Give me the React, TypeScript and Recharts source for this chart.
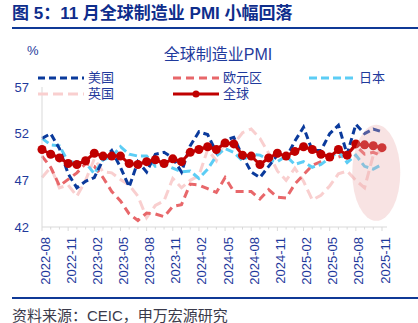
import React from "react";
import { LineChart, Line, XAxis, YAxis, ReferenceDot } from "recharts";

const months = [
  "2022-08", "2022-09", "2022-10", "2022-11", "2022-12",
  "2023-01", "2023-02", "2023-03", "2023-04", "2023-05", "2023-06",
  "2023-07", "2023-08", "2023-09", "2023-10", "2023-11", "2023-12",
  "2024-01", "2024-02", "2024-03", "2024-04", "2024-05", "2024-06",
  "2024-07", "2024-08", "2024-09", "2024-10", "2024-11", "2024-12",
  "2025-01", "2025-02", "2025-03", "2025-04", "2025-05", "2025-06",
  "2025-07", "2025-08", "2025-09", "2025-10", "2025-11",
];

const usPmi = [
  51.5, 52.0, 50.4, 47.7, 46.2,
  46.9, 47.3, 49.2, 50.2, 48.4, 46.3, 49.0, 47.9, 49.8, 50.0, 49.4, 47.9,
  50.7, 52.2, 51.9, 50.0, 51.3, 51.6, 49.6, 47.9, 47.3, 48.5, 49.7, 49.4,
  51.2, 52.7, 50.2, 50.2, 52.0, 52.9, 49.8, 53.0, 52.0, 52.5, 52.2,
];

const euroPmi = [
  49.6, 48.4, 46.4, 47.1, 47.8,
  48.8, 48.5, 47.3, 45.8, 44.8, 43.4, 42.7, 43.5, 43.4, 43.1, 44.2, 44.4,
  46.6, 46.5, 46.1, 45.7, 47.3, 45.8, 45.8, 45.8, 45.0, 46.0, 45.2, 45.1,
  46.6, 47.6, 48.6, 49.0, 49.4, 49.5, 49.8, 50.7, 49.8, 50.0, 49.6,
];

const japanPmi = [
  51.5, 50.8, 50.7, 49.0, 48.9,
  48.9, 47.7, 49.2, 49.5, 50.6, 49.8, 49.6, 49.6, 48.5, 48.7, 48.3, 47.9,
  48.0, 47.2, 48.2, 49.6, 50.4, 50.0, 49.1, 49.8, 49.7, 49.2, 49.0, 49.6,
  48.7, 49.0, 48.4, 48.7, 49.4, 50.1, 48.9, 49.7, 48.5, 48.2, 48.7,
];

const ukPmi = [
  47.3, 48.4, 46.2, 46.5, 45.3,
  47.0, 49.3, 47.9, 47.8, 47.1, 46.5, 45.3, 43.0, 44.3, 44.8, 47.2, 46.2,
  47.0, 47.5, 50.3, 49.1, 51.2, 50.9, 52.1, 52.5, 51.5, 49.9, 48.0, 47.0,
  48.3, 46.9, 44.9, 45.4, 46.4, 47.7, 48.0, 47.0, 46.2, 49.7, 50.2,
];

const globalPmi = [
  50.3, 49.8, 49.4, 48.8, 48.7,
  49.1, 49.9, 49.6, 49.6, 49.6, 48.8, 48.7, 49.0, 49.2, 48.8, 49.3, 49.0,
  50.0, 50.3, 50.6, 50.3, 51.0, 50.9, 49.7, 49.6, 48.7, 49.4, 49.9, 49.6,
  50.1, 50.6, 50.3, 49.8, 49.5, 50.3, 49.7, 50.9, 50.8, 50.7, 50.5,
];

const yTicks = [42, 47, 52, 57];

const data = months.map((m, i) => ({
  month: m,
  us: usPmi[i],
  euro: euroPmi[i],
  japan: japanPmi[i],
  uk: ukPmi[i],
  global: globalPmi[i],
}));

const FONT = '"Liberation Sans", Arial, "Noto Sans CJK SC", sans-serif';
const BLUE_TEXT = "#1f3a9c";
const NAVY = "#0e2d8c";
const AXIS = "#d9d9d9";

const C_US = "#0a3a9c";
const C_EURO = "#e8676a";
const C_JAPAN = "#5ccdf5";
const C_UK = "#f9cfcf";
const C_GLOBAL = "#c00000";

function MonthTick(props: any) {
  const { x, y, payload, index } = props;
  const major = index % 3 === 0;
  return (
    <g>
      <line x1={x} x2={x} y1={y} y2={y + (major ? 4 : 2.5)} stroke={AXIS} strokeWidth={1} />
      {major && (
        <text
          transform={`translate(${x + 3},${y + 10}) rotate(-90)`}
          textAnchor="end"
          dominantBaseline="central"
          fill={BLUE_TEXT}
          fontSize={13}
          fontFamily={FONT}
        >
          {payload.value}
        </text>
      )}
    </g>
  );
}

function LegendItem({
  left,
  top,
  color,
  dash,
  label,
  dot,
}: {
  left: number;
  top: number;
  color: string;
  dash?: string;
  label: string;
  dot?: boolean;
}) {
  return (
    <div style={{ position: "absolute", left, top: top - 8, height: 16, display: "flex", alignItems: "center" }}>
      <svg width={48} height={16}>
        <line x1={1} x2={47} y1={8} y2={8} stroke={color} strokeWidth={3} strokeDasharray={dash} />
        {dot && <circle cx={24} cy={8} r={3.5} fill={color} />}
      </svg>
      <span style={{ marginLeft: 3, fontSize: 13, color: BLUE_TEXT, fontFamily: FONT, lineHeight: "16px" }}>
        {label}
      </span>
    </div>
  );
}

export default function App() {
  return (
    <div style={{ position: "absolute", left: 0, top: 0, width: 418, height: 323, background: "#fff", fontFamily: FONT }}>
      <div style={{ position: "absolute", left: 12, top: 3, fontSize: 17, fontWeight: "bold", color: NAVY, whiteSpace: "nowrap", lineHeight: "22px" }}>
        图 5：11 月全球制造业 PMI 小幅回落
      </div>
      <div style={{ position: "absolute", left: 12, right: 0, top: 27, height: 2, background: "#0f3996" }} />

      <LineChart
        width={418}
        height={323}
        data={data}
        margin={{ top: 87, right: 31, bottom: 36, left: 0 }}
        style={{ position: "absolute", left: 0, top: 0 }}
      >
        <XAxis
          dataKey="month"
          interval={0}
          tickLine={false}
          tickSize={0}
          tickMargin={0}
          height={60}
          padding={{ left: 0, right: 5 }}
          axisLine={{ stroke: AXIS }}
          tick={<MonthTick />}
        />
        <YAxis
          domain={[42, 57]}
          ticks={yTicks}
          width={42}
          tickLine={false}
          tickSize={0}
          tickMargin={13}
          axisLine={{ stroke: AXIS }}
          tick={{ fill: BLUE_TEXT, fontSize: 13, fontFamily: FONT }}
        />
        <Line type="linear" dataKey="uk" stroke={C_UK} strokeWidth={3} strokeDasharray="10 5" dot={false} isAnimationActive={false} />
        <Line type="linear" dataKey="euro" stroke={C_EURO} strokeWidth={3} strokeDasharray="8 5" dot={false} isAnimationActive={false} />
        <Line type="linear" dataKey="japan" stroke={C_JAPAN} strokeWidth={3} strokeDasharray="8 4" dot={false} isAnimationActive={false} />
        <Line type="linear" dataKey="us" stroke={C_US} strokeWidth={3} strokeDasharray="7 4" dot={false} isAnimationActive={false} />
        <Line
          type="linear"
          dataKey="global"
          stroke={C_GLOBAL}
          strokeWidth={3}
          dot={{ r: 4.5, fill: C_GLOBAL, stroke: C_GLOBAL, strokeWidth: 0 }}
          isAnimationActive={false}
        />
        <ReferenceDot
          x="2025-10"
          y={47.8}
          ifOverflow="visible"
          shape={(p: any) => (
            <ellipse cx={p.cx + 3} cy={p.cy} rx={24} ry={48} fill="#e9a9a9" fillOpacity={0.33} />
          )}
        />
      </LineChart>

      <div style={{ position: "absolute", left: 27, top: 43, fontSize: 13, color: BLUE_TEXT, lineHeight: "16px" }}>%</div>
      <div style={{ position: "absolute", left: 0, width: 436, top: 46, textAlign: "center", fontSize: 16, color: BLUE_TEXT, lineHeight: "18px" }}>
        全球制造业PMI
      </div>

      <LegendItem left={37} top={78} color={C_US} dash="7 4" label="美国" />
      <LegendItem left={172} top={78} color={C_EURO} dash="8 5" label="欧元区" />
      <LegendItem left={308} top={78} color={C_JAPAN} dash="8 4" label="日本" />
      <LegendItem left={37} top={94} color={C_UK} dash="10 5" label="英国" />
      <LegendItem left={172} top={94} color={C_GLOBAL} label="全球" dot />

      <div style={{ position: "absolute", left: 12, right: 0, top: 297, height: 2, background: "#0f3996" }} />
      <div style={{ position: "absolute", left: 12, top: 307, fontSize: 15, color: "#3a3a4a", whiteSpace: "nowrap", lineHeight: "18px" }}>
        资料来源：CEIC，申万宏源研究
      </div>
    </div>
  );
}
